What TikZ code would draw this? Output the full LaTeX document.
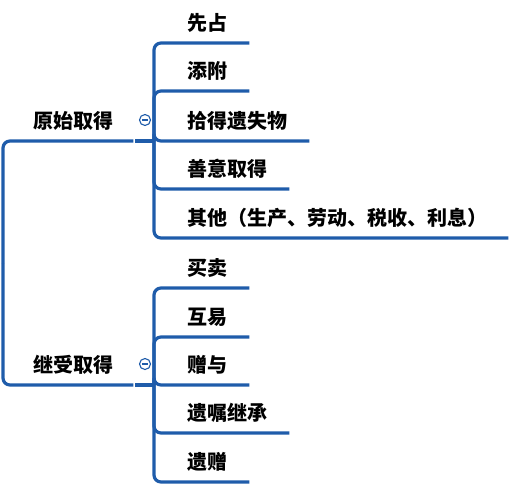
\documentclass[tikz,border=0pt]{standalone}
\usepackage{fontspec}
\newfontfamily\cjk{Noto Sans CJK SC}
\usepackage{tikz}
\usetikzlibrary{positioning}
\definecolor{MapBlue}{RGB}{31,92,170}
\tikzset{
  link/.style={draw=MapBlue,line width=3.2pt,rounded corners=7pt},
  topic/.style={anchor=south west,font=\cjk\bfseries\fontsize{20}{23}\selectfont,
    inner xsep=0pt,inner ysep=9pt,text height=15pt,text depth=3pt},
  leaf/.style={topic},
}
\tikzset{toggle/.style={circle,draw=MapBlue,fill=white,line width=1.1pt,minimum size=11pt,inner sep=0pt,
    path picture={\draw[MapBlue,line width=1.1pt] ([xshift=-3pt]path picture bounding box.center)--([xshift=3pt]path picture bounding box.center);}}}

\begin{document}
\begin{tikzpicture}[x=1pt,y=-1pt]
\useasboundingbox (0,0) rectangle (529,491);
\coordinate (root) at (3,263);
\coordinate (ja) at (154,141);
\coordinate (jb) at (154,385);
\node[topic] (pa) at (33,141) {原始取得};
\node[topic] (pb) at (33,385) {继受取得};
\node[leaf] (a1) at (187,43) {先占};
\node[leaf] (a2) at (187,91) {添附};
\node[leaf] (a3) at (187,141) {拾得遗失物};
\node[leaf] (a4) at (187,189) {善意取得};
\node[leaf] (a5) at (187,238) {其他（生产、劳动、税收、利息）};
\node[leaf] (b1) at (187,288) {买卖};
\node[leaf] (b2) at (187,337) {互易};
\node[leaf] (b3) at (187,385) {赠与};
\node[leaf] (b4) at (187,433) {遗嘱继承};
\node[leaf] (b5) at (187,482) {遗赠};
\draw[link] (root) |- ([xshift=20pt]pa.south east);
\draw[link] (root) |- ([xshift=20pt]pb.south east);
\draw[link] ([xshift=22pt]pa.south east) -- (ja);
\draw[link] ([xshift=22pt]pb.south east) -- (jb);
\foreach \c in {a1,a2,a3,a4}
  \draw[link] (ja) |- ([xshift=22pt]\c.south east);
\draw[link] (ja) |- ([xshift=21pt]a5.south east);
\foreach \c in {b1,b2,b3,b4,b5}
  \draw[link] (jb) |- ([xshift=22pt]\c.south east);
\node[toggle] (ta) at (145,120) {};
\node[toggle] (tb) at (145,364) {};
\end{tikzpicture}
\end{document}
